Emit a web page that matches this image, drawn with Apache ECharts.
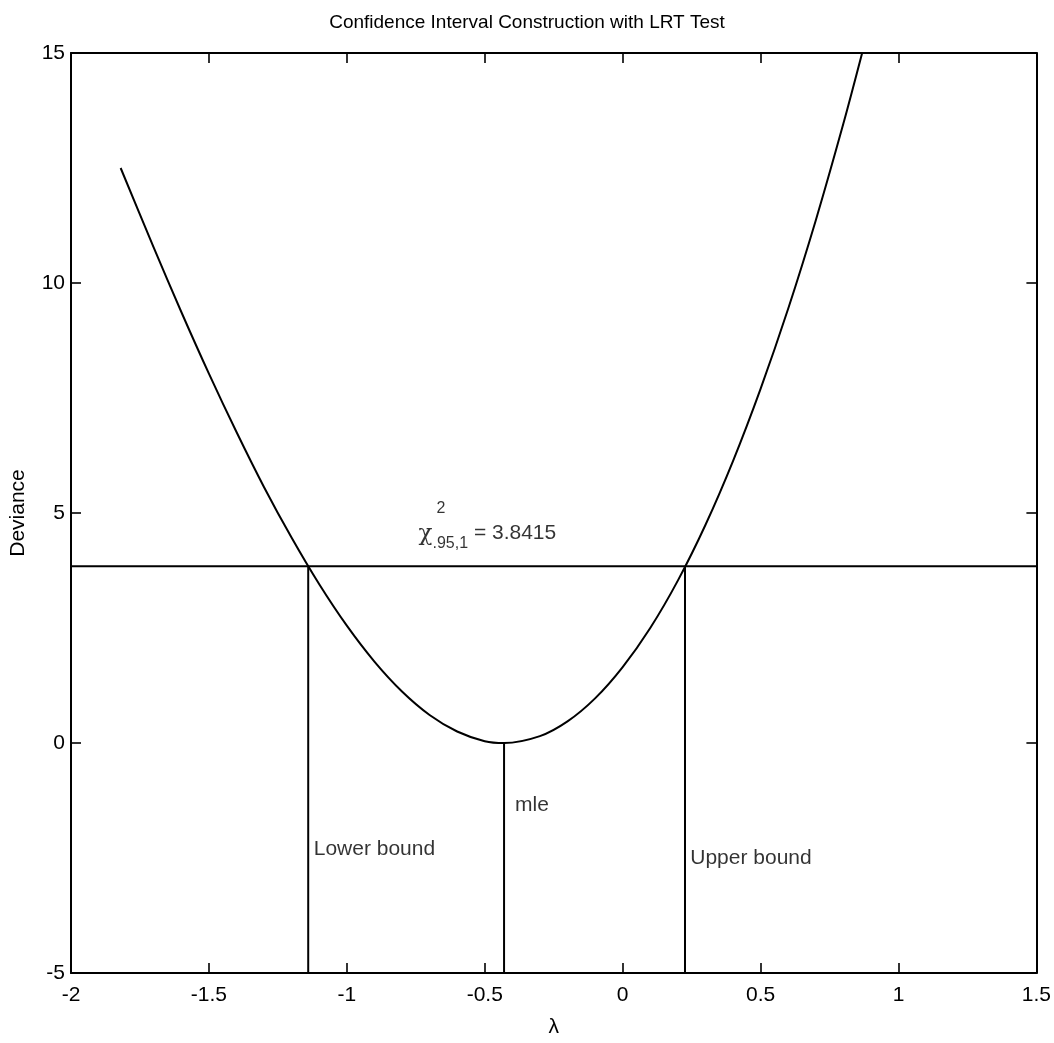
<!DOCTYPE html>
<html>
<head>
<meta charset="utf-8">
<script src="https://cdn.jsdelivr.net/npm/echarts@6/dist/echarts.min.js"></script>
<style>
  html, body { margin: 0; padding: 0; background: #fff; }
  #chart { width: 1054px; height: 1043px; }
</style>
</head>
<body>
<div id="chart"></div>
<script>
// profile deviance
const lambda = [-1.82, -1.7, -1.6, -1.5, -1.4, -1.3, -1.2, -1.1, -1.0, -0.9, -0.8, -0.7, -0.6, -0.5, -0.43,
                -0.3, -0.2, -0.1, 0.0, 0.1, 0.2, 0.3, 0.4, 0.5, 0.6, 0.7, 0.8, 0.87];
const deviance = [12.5, 10.77, 9.37, 8.03, 6.76, 5.56, 4.46, 3.45, 2.55, 1.77, 1.12, 0.61, 0.25, 0.04, 0.0,
                  0.15, 0.47, 0.97, 1.65, 2.50, 3.53, 4.74, 6.13, 7.70, 9.44, 11.36, 13.46, 15.04];

const chiValue = 3.8415;   // chi-square .95, 1 df
const lowerBound = -1.14;
const mleValue = -0.43;
const upperBound = 0.226;

const xRange = [-2, 1.5];
const yRange = [-5, 15];

const font = '"Liberation Sans", Arial, sans-serif';

const chart = echarts.init(document.getElementById('chart'));

const blackLine = { color: '#000', width: 2 };

function segment(name, pts, smooth) {
    return {
        name: name,
        type: 'line',
        data: pts,
        showSymbol: false,
        smooth: smooth || false,
        silent: true,
        animation: false,
        lineStyle: blackLine
    };
}

function note(txt, x, y, extra) {
    return {
        type: 'scatter',
        symbolSize: 0,
        silent: true,
        animation: false,
        data: [[x, y]],
        label: Object.assign({
            show: true,
            position: 'right',
            distance: 0,
            formatter: txt,
            color: '#000',
            fontSize: 21,
            fontFamily: font
        }, extra || {})
    };
}

const axisCommon = {
    type: 'value',
    axisLine: { show: true, onZero: false, lineStyle: { color: '#000', width: 2 } },
    axisTick: { show: true, inside: true, length: 10, lineStyle: { color: '#000', width: 1.6 } },
    splitLine: { show: false },
    axisLabel: { color: '#000', fontSize: 21, fontFamily: font }
};

chart.setOption({
    backgroundColor: '#fff',
    title: {
        text: 'Confidence Interval Construction with LRT Test',
        left: 'center',
        top: 8,
        textStyle: { color: '#000', fontSize: 19, fontWeight: 'normal', fontFamily: font }
    },
    grid: { left: 70, right: 9, top: 53, bottom: 63 },
    xAxis: [
        Object.assign({}, axisCommon, {
            min: xRange[0], max: xRange[1], interval: 0.5,
            position: 'bottom',
            name: 'λ',
            nameLocation: 'middle',
            nameGap: 44,
            nameTextStyle: { color: '#000', fontSize: 21, fontFamily: font },
            axisLabel: Object.assign({}, axisCommon.axisLabel, { margin: 12 })
        }),
        Object.assign({}, axisCommon, {
            min: xRange[0], max: xRange[1], interval: 0.5,
            position: 'top',
            axisLabel: { show: false }
        })
    ],
    yAxis: [
        Object.assign({}, axisCommon, {
            min: yRange[0], max: yRange[1], interval: 5,
            position: 'left',
            name: 'Deviance',
            nameLocation: 'middle',
            nameGap: 42,
            nameRotate: 90,
            nameTextStyle: { color: '#000', fontSize: 21, fontFamily: font },
            axisLabel: Object.assign({}, axisCommon.axisLabel, { margin: 6 })
        }),
        Object.assign({}, axisCommon, {
            min: yRange[0], max: yRange[1], interval: 5,
            position: 'right',
            axisLabel: { show: false }
        })
    ],
    series: [
        segment('deviance', lambda.map((l, i) => [l, deviance[i]]), 0.3),
        segment('chi', [[xRange[0], chiValue], [xRange[1], chiValue]]),
        segment('lower', [[lowerBound, chiValue], [lowerBound, yRange[0]]]),
        segment('mle', [[mleValue, 0], [mleValue, yRange[0]]]),
        segment('upper', [[upperBound, chiValue], [upperBound, yRange[0]]]),
        note('{c|χ}{s|.95,1}{t| = 3.8415}', -0.74, 4.55, {
            rich: {
                c: { fontSize: 23, lineHeight: 36, fontFamily: 'DejaVu Serif, serif', color: '#000' },
                s: { fontSize: 16, lineHeight: 18, verticalAlign: 'bottom', fontFamily: font, color: '#000' },
                t: { fontSize: 21, lineHeight: 36, fontFamily: font, color: '#000' }
            }
        }),
        note('2', -0.675, 5.1, { fontSize: 16 }),
        note('mle', -0.39, -1.35),
        note('Lower bound', -1.12, -2.3),
        note('Upper bound', 0.245, -2.5)
    ]
});
</script>
</body>
</html>
